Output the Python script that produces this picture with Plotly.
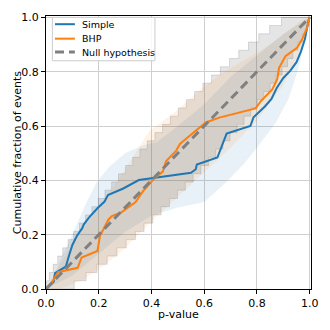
import plotly.graph_objects as go
import numpy as np

N_EVENTS = 33

# Simple (blue) P-P curve
simple_p = [0, 0.029, 0.034, 0.075, 0.088, 0.100, 0.117, 0.137, 0.143, 0.162, 0.195, 0.222,
            0.235, 0.293, 0.352, 0.42, 0.55, 0.568, 0.572, 0.65, 0.66, 0.685, 0.775, 0.787,
            0.830, 0.855, 0.875, 0.90, 0.926, 0.950, 0.967, 0.982, 0.996, 1.0]
simple_f = [0, 0.027, 0.058, 0.082, 0.125, 0.162, 0.195, 0.223, 0.237, 0.262, 0.297, 0.322,
            0.346, 0.37, 0.401, 0.41, 0.428, 0.441, 0.458, 0.484, 0.511, 0.572, 0.600, 0.632,
            0.672, 0.70, 0.740, 0.777, 0.803, 0.835, 0.875, 0.92, 0.99, 1.0]

# BHP (orange) P-P curve
bhp_p = [0, 0.02, 0.035, 0.045, 0.12, 0.128, 0.135, 0.195, 0.205, 0.237, 0.25, 0.287, 0.315,
         0.34, 0.368, 0.412, 0.443, 0.455, 0.493, 0.508, 0.537, 0.568, 0.606, 0.657, 0.77,
         0.795, 0.815, 0.858, 0.877, 0.884, 0.908, 0.952, 0.971, 0.99, 0.997, 1.0]
bhp_f = [0, 0.02, 0.045, 0.062, 0.078, 0.1, 0.116, 0.14, 0.196, 0.256, 0.268, 0.283, 0.303,
         0.32, 0.36, 0.408, 0.432, 0.47, 0.508, 0.534, 0.558, 0.582, 0.613, 0.631, 0.659,
         0.665, 0.692, 0.735, 0.772, 0.814, 0.857, 0.888, 0.918, 0.961, 0.99, 1.0]

# smooth bands around each curve
simple_lo_p = [0, 0.1, 0.2, 0.3, 0.4, 0.5, 0.6, 0.68, 0.75, 0.8, 0.87, 0.92, 0.96, 0.985, 1.0]
simple_lo_f = [0, 0.05, 0.13, 0.21, 0.27, 0.30, 0.32, 0.39, 0.46, 0.52, 0.61, 0.70, 0.82, 0.94, 1.0]
simple_hi_p = [0, 0.03, 0.06, 0.10, 0.14, 0.19, 0.24, 0.30, 0.37, 0.42, 0.5, 0.6, 0.7, 0.8, 0.9, 1.0]
simple_hi_f = [0, 0.05, 0.12, 0.20, 0.29, 0.39, 0.45, 0.50, 0.53, 0.54, 0.60, 0.68, 0.78, 0.86, 0.94, 1.0]

bhp_lo_p = [0, 0.05, 0.14, 0.23, 0.30, 0.39, 0.5, 0.6, 0.7, 0.8, 0.9, 0.96, 1.0]
bhp_lo_f = [0, 0.0, 0.033, 0.094, 0.15, 0.24, 0.34, 0.43, 0.52, 0.62, 0.75, 0.87, 1.0]
bhp_hi_p = [0, 0.1, 0.2, 0.3, 0.39, 0.5, 0.58, 0.66, 0.73, 0.81, 0.88, 0.97, 1.0]
bhp_hi_f = [0, 0.17, 0.30, 0.44, 0.58, 0.66, 0.73, 0.79, 0.83, 0.875, 0.92, 0.99, 1.0]

# stepped null-hypothesis band (step positions, counts out of N_EVENTS)
null_hi_p = [0, 0.002, 0.0125, 0.0275, 0.0446, 0.0636, 0.0838, 0.105, 0.127, 0.150, 0.174,
             0.1985, 0.2235, 0.249, 0.275, 0.302, 0.329, 0.356, 0.384, 0.413, 0.442, 0.4716,
             0.5016, 0.532, 0.5635, 0.595, 0.628, 0.661, 0.696, 0.731, 0.768, 0.807, 0.848,
             0.893, 1.0]
null_lo_p = [0, 0.107, 0.152, 0.193, 0.232, 0.269, 0.304, 0.339, 0.372, 0.405, 0.4365, 0.468,
             0.4984, 0.5284, 0.558, 0.587, 0.616, 0.644, 0.671, 0.698, 0.725, 0.751, 0.7765,
             0.8015, 0.826, 0.850, 0.873, 0.895, 0.9162, 0.9364, 0.9554, 0.9725, 0.9875,
             0.998, 1.0]
null_counts = list(range(0, 34)) + [33]

series_names = ["Simple", "BHP", "Null hypothesis"]

BLUE = "#1f77b4"
ORANGE = "#ff7f0e"
GREY = "#808080"
DASH = "9px,5px"

fig = go.Figure()


def band(x_lo, y_lo, x_hi, y_hi, fill, line="rgba(0,0,0,0)", shape="linear"):
    fig.add_trace(go.Scatter(x=x_lo, y=y_lo, mode="lines", line=dict(color=line, width=1, shape=shape),
                             showlegend=False, hoverinfo="skip"))
    fig.add_trace(go.Scatter(x=x_hi, y=y_hi, mode="lines", fill="tonexty", fillcolor=fill,
                             line=dict(color=line, width=1, shape=shape),
                             showlegend=False, hoverinfo="skip"))


null_f = np.array(null_counts) / N_EVENTS
band(null_lo_p, null_f, null_hi_p, null_f, "rgba(0,0,0,0.1)", line="rgba(0,0,0,0.12)", shape="hv")
band(simple_lo_p, simple_lo_f, simple_hi_p, simple_hi_f, "rgba(31,119,180,0.1)")
band(bhp_lo_p, bhp_lo_f, bhp_hi_p, bhp_hi_f, "rgba(255,127,14,0.1)")

fig.add_trace(go.Scatter(x=simple_p, y=simple_f, mode="lines", name=series_names[0],
                         line=dict(color=BLUE, width=2), showlegend=False))
fig.add_trace(go.Scatter(x=bhp_p, y=bhp_f, mode="lines", name=series_names[1],
                         line=dict(color=ORANGE, width=2), showlegend=False))
fig.add_trace(go.Scatter(x=[0, 1], y=[0, 1], mode="lines", name=series_names[2],
                         line=dict(color=GREY, width=3, dash=DASH), showlegend=False))

axis = dict(range=[0, 1.005], tickvals=[0, 0.2, 0.4, 0.6, 0.8, 1.0], tickformat=".1f",
            showgrid=True, gridcolor="#cfcfcf", gridwidth=1, zeroline=False,
            showline=True, linecolor="black", linewidth=1, mirror=True,
            ticks="outside", ticklen=4, tickcolor="black", automargin=False,
            tickfont=dict(size=11, color="black"))

# compact matplotlib-style legend box in the upper left
shapes = [dict(type="rect", xref="paper", yref="paper", x0=0.024, x1=0.411, y0=0.836, y1=0.995,
               fillcolor="rgba(255,255,255,0.85)", line=dict(color="#cccccc", width=1), layer="above")]
annotations = []
legend_rows = [0.970, 0.917, 0.868]
legend_styles = [dict(color=BLUE, width=2), dict(color=ORANGE, width=2),
                 dict(color=GREY, width=3, dash=DASH)]
for name, yy, st in zip(series_names, legend_rows, legend_styles):
    shapes.append(dict(type="line", xref="paper", yref="paper", x0=0.034, x1=0.109, y0=yy, y1=yy,
                       line=st, layer="above"))
    annotations.append(dict(text=name, xref="paper", yref="paper", x=0.128, y=yy,
                            xanchor="left", yanchor="middle", showarrow=False,
                            font=dict(size=9.5, color="black")))

annotations += [
    dict(text="p-value", xref="paper", yref="paper", x=0.5, y=-0.062,
         xanchor="center", yanchor="top", showarrow=False, font=dict(size=11)),
    dict(text="Cumulative fraction of events", xref="paper", yref="paper",
         x=-0.075, y=0.5, xanchor="right", yanchor="middle", textangle=-90,
         showarrow=False, font=dict(size=11)),
]

# the page body adds an 8px offset, so the figure is 322px and margins are shifted
fig.update_layout(
    width=322, height=322,
    margin=dict(l=38, r=19, t=8, b=41, autoexpand=False),
    paper_bgcolor="white", plot_bgcolor="white",
    font=dict(family="DejaVu Sans", size=11, color="black"),
    xaxis=axis,
    yaxis=axis,
    showlegend=False,
    shapes=shapes,
    annotations=annotations,
)

fig.write_html("out.html", config={"displayModeBar": False})
